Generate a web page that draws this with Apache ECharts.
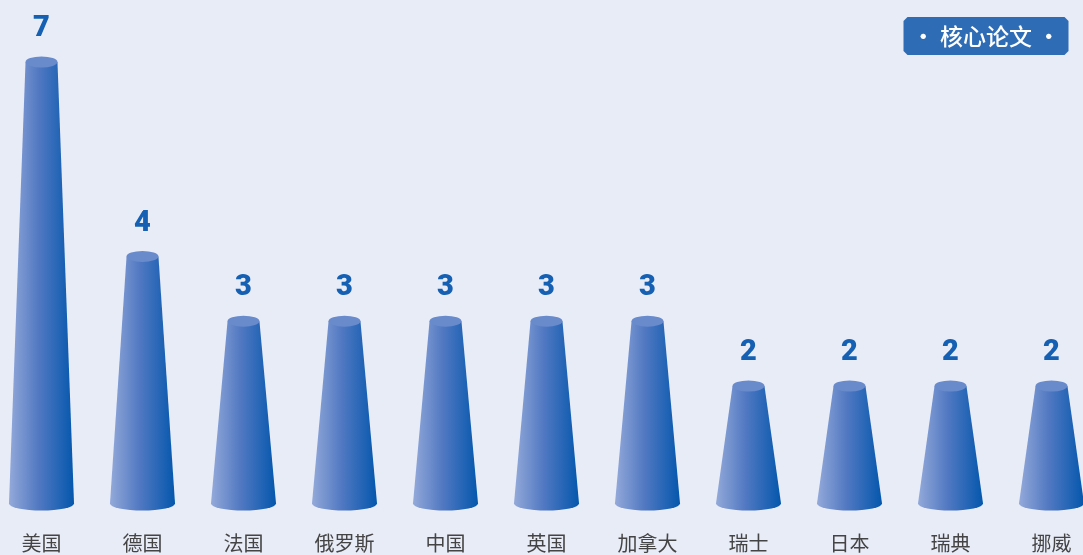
<!DOCTYPE html>
<html>
<head>
<meta charset="utf-8">
<script src="https://cdn.jsdelivr.net/npm/echarts@6/dist/echarts.min.js"></script>
<style>
  html, body { margin: 0; padding: 0; background: #e8ecf7; overflow: hidden; }
  body { width: 1083px; height: 555px; position: relative; }
  /* the plot is a little wider than the page so the outer cones sit close to the edges */
  #chart { position: absolute; left: -9.5px; top: 0; width: 1111px; height: 555px; }
</style>
</head>
<body>
<div id="chart"></div>
<script>
// Core papers by country
const countries = ['美国', '德国', '法国', '俄罗斯', '中国', '英国', '加拿大', '瑞士', '日本', '瑞典', '挪威'];
const paperCounts = [7, 4, 3, 3, 3, 3, 3, 2, 2, 2, 2];
const badgeText = '· 核心论文 ·';

const chart = echarts.init(document.getElementById('chart'));

// Draws one truncated cone per category: body, top cap and value label
function renderCone(params, api) {
  const idx = api.value(0);
  const val = api.value(1);
  const top = api.coord([idx, val]);
  const zero = api.coord([idx, 0]);
  const band = api.size([1, 0])[0];
  const cx = top[0];
  const topY = top[1];
  const baseY = zero[1] - 12;
  const rTop = band * 0.158;
  const rBot = band * 0.322;
  const ryTop = 5.5;
  const ryBot = 7;

  const body =
    'M' + (cx - rTop) + ' ' + topY +
    ' L' + (cx + rTop) + ' ' + topY +
    ' L' + (cx + rBot) + ' ' + baseY +
    ' A' + rBot + ' ' + ryBot + ' 0 0 1 ' + (cx - rBot) + ' ' + baseY +
    ' Z';
  const cap =
    'M' + (cx - rTop) + ' ' + topY +
    ' A' + rTop + ' ' + ryTop + ' 0 1 1 ' + (cx + rTop) + ' ' + topY +
    ' A' + rTop + ' ' + ryTop + ' 0 1 1 ' + (cx - rTop) + ' ' + topY + ' Z';

  return {
    type: 'group',
    children: [
      {
        type: 'path',
        shape: { pathData: body },
        style: {
          fill: new echarts.graphic.LinearGradient(0, 0, 1, 0, [
            { offset: 0, color: '#93a9d9' },
            { offset: 0.45, color: '#5279c2' },
            { offset: 1, color: '#0457ad' }
          ])
        }
      },
      {
        type: 'path',
        shape: { pathData: cap },
        style: { fill: '#6a8bcb' }
      },
      {
        type: 'text',
        style: {
          text: String(val),
          x: cx,
          y: topY - 33,
          align: 'center',
          verticalAlign: 'middle',
          fill: '#1560b2',
          font: '900 29px Roboto, "Noto Sans", sans-serif'
        }
      }
    ]
  };
}

chart.setOption({
  backgroundColor: '#e8ecf7',
  animation: false,
  grid: { left: 0, right: 0, top: 62, bottom: 39.4, containLabel: false },
  xAxis: {
    type: 'category',
    data: countries,
    axisLine: { show: false },
    axisTick: { show: false },
    axisLabel: {
      margin: 18,
      color: '#444444',
      fontSize: 20,
      fontFamily: '"Noto Sans CJK SC", sans-serif'
    }
  },
  yAxis: {
    type: 'value',
    min: 0,
    max: 7,
    show: false,
    splitLine: { show: false }
  },
  series: [{
    type: 'custom',
    renderItem: renderCone,
    encode: { x: 0, y: 1 },
    data: paperCounts.map((v, i) => [i, v]),
    clip: false
  }],
  graphic: [{
    type: 'group',
    right: 33.5,
    top: 17,
    children: [
      {
        type: 'polygon',
        shape: {
          points: [[4, 0], [161, 0], [165, 4], [165, 34], [161, 38], [4, 38], [0, 34], [0, 4]]
        },
        style: { fill: '#2e6db6' }
      },
      {
        type: 'text',
        style: {
          text: badgeText,
          x: 82.5,
          y: 19,
          align: 'center',
          verticalAlign: 'middle',
          fill: '#ffffff',
          font: '500 23px "Noto Sans CJK SC", sans-serif'
        }
      }
    ]
  }]
});
</script>
</body>
</html>
